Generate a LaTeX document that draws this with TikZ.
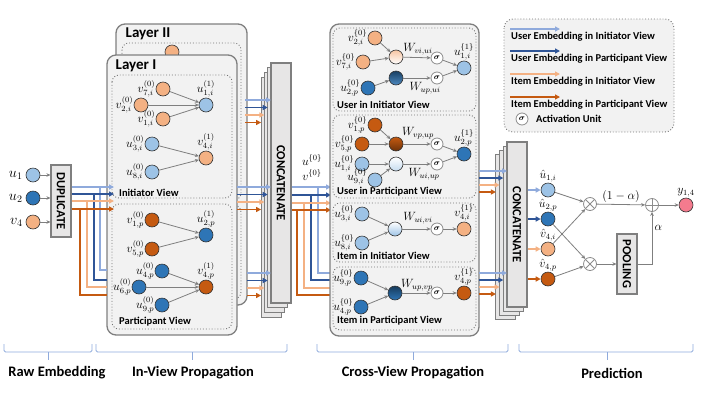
\documentclass[tikz,border=0pt]{standalone}
\usepackage{fontspec}
\setmainfont{Carlito}
\usepackage{amsmath}
\usepackage{graphicx}
\usetikzlibrary{arrows.meta,positioning,calc}

\definecolor{lbfill}{HTML}{9DC3E6}
\definecolor{dbfill}{HTML}{2E75B6}
\definecolor{lofill}{HTML}{F4B183}
\definecolor{dofill}{HTML}{C55A11}
\definecolor{lbline}{HTML}{8FAADC}
\definecolor{dbline}{HTML}{2F5597}
\definecolor{loline}{HTML}{F4B183}
\definecolor{doline}{HTML}{C55A11}
\definecolor{boxfill}{HTML}{F2F2F2}
\definecolor{boxline}{HTML}{7F7F7F}
\definecolor{catfill}{HTML}{E7E6E6}
\definecolor{pinkfill}{HTML}{F47B8E}
\definecolor{brk}{HTML}{8FAADC}

\tikzset{
  emb/.style={circle,draw=black!80,line width=0.6pt,minimum size=14pt,inner sep=0pt},
  lbc/.style={emb,fill=lbfill},
  dbc/.style={emb,fill=dbfill},
  loc/.style={emb,fill=lofill},
  doc/.style={emb,fill=dofill},
  sig/.style={circle,draw=black!45,fill=white,line width=0.8pt,minimum size=12pt,inner sep=0pt,font=\fontsize{8.5}{8}\selectfont},
  opc/.style={circle,draw=black!45,fill=white,line width=0.8pt,minimum size=13pt,inner sep=0pt},
  ed/.style={draw=boxline,line width=0.8pt,-{Stealth[length=4pt,width=3.6pt]}},
  lbf/.style={draw=lbline,line width=1.7pt},
  dbf/.style={draw=dbline,line width=1.7pt},
  lof/.style={draw=loline,line width=1.7pt},
  dof/.style={draw=doline,line width=1.7pt},
  tip/.style={-{Triangle[length=5pt,width=5pt]}},
  layer/.style={draw=boxline,fill=boxfill,line width=1.3pt,rounded corners=9pt},
  view/.style={draw=black!55,dotted,line width=0.9pt,rounded corners=7pt},
  block/.style={draw=boxline,fill=catfill,line width=1.1pt,inner sep=0pt,font=\bfseries\fontsize{12.5}{13}\selectfont},
  stack/.style={draw=boxline,fill=catfill,line width=1.1pt},
  nl/.style={inner sep=0.3pt,font=\fontsize{12}{13}\selectfont},
  rl/.style={inner sep=3pt,font=\fontsize{14}{15}\selectfont},
  wl/.style={inner sep=0pt,font=\fontsize{12}{13}\selectfont},
  title/.style={font=\bfseries\fontsize{15}{16}\selectfont},
  vlab/.style={anchor=west,inner sep=0pt,font=\bfseries\fontsize{10.5}{11}\selectfont},
  leg/.style={anchor=west,inner sep=0pt,font=\bfseries\fontsize{10.5}{11}\selectfont},
  btxt/.style={font=\bfseries\fontsize{14.5}{15}\selectfont},
  brace/.style={draw=brk,line width=0.8pt,rounded corners=1.5pt}
}

\begin{document}
\begin{tikzpicture}[x=1pt,y=-1pt]
\useasboundingbox (0,0) rectangle (706,397);

% raw embedding
\node[lbc,label={[rl]left:$u_1$}] (u1) at (33,175) {};
\node[dbc,label={[rl]left:$u_2$}] (u2) at (33,198) {};
\node[loc,label={[rl]left:$v_4$}] (v4) at (33,222) {};
\node[block,minimum width=20pt,minimum height=72pt] (dup) at (61,201) {\rotatebox{-90}{DUPLICATE}};
\foreach \n in {u1,u2,v4} \draw[ed] (\n) -- (\n -| dup.west);

% in-view propagation, two layers
\draw[layer] (116,24) rectangle (247,305);
\draw[view] (122,43) rectangle (241,200);
\draw[view] (122,205) rectangle (241,299);
\node[loc] (l2v) at (172,52) {};
\node[title] (l2) at (148,34) {Layer II};
\draw[layer] (107,55) rectangle (237,335);
\node[title] (l1) at (136,66) {Layer I};
\draw[view] (112,75) rectangle (232,198);
\draw[view] (112,204) rectangle (232,329);
\node[vlab] (iview) at (119,193) {Initiator View};
\node[vlab] (pview) at (119,322) {Participant View};

% initiator view
\node[loc,label={[nl]left:$v^{(0)}_{7,i}$}] (iv7) at (163,89) {};
\node[loc,label={[nl]left:$v^{(0)}_{2,i}$}] (iv2) at (141,105) {};
\node[loc,label={[nl]left:$v^{(0)}_{1,i}$}] (iv1) at (163,119) {};
\node[lbc,label={[nl]above:$u^{(1)}_{1,i}$}] (iu1) at (206,105) {};
\node[lbc,label={[nl]left:$u^{(0)}_{3,i}$}] (iu3) at (152,144) {};
\node[lbc,label={[nl]left:$u^{(0)}_{8,i}$}] (iu8) at (152,172) {};
\node[loc,label={[nl]above:$v^{(1)}_{4,i}$}] (iv4) at (206,158) {};
% participant view
\node[doc,label={[nl]left:$v^{(0)}_{1,p}$}] (pv1) at (152,220) {};
\node[doc,label={[nl]left:$v^{(0)}_{5,p}$}] (pv5) at (152,249) {};
\node[dbc,label={[nl]above:$u^{(1)}_{2,p}$}] (pu2) at (206,235) {};
\node[dbc,label={[nl]left:$u^{(0)}_{4,p}$}] (pu4) at (162,271) {};
\node[dbc,label={[nl]left:$u^{(0)}_{6,p}$}] (pu6) at (139,287) {};
\node[dbc,label={[nl]left:$u^{(0)}_{9,p}$}] (pu9) at (162,305) {};
\node[doc,label={[nl]above:$v^{(1)}_{4,p}$}] (pv4) at (206,287) {};
\foreach \s/\t in {iv7/iu1,iv2/iu1,iv1/iu1,iu3/iv4,iu8/iv4,pv1/pu2,pv5/pu2,pu4/pv4,pu6/pv4,pu9/pv4}
  \draw[ed] (\s) -- (\t);

% duplicate -> layer I
\foreach \c/\y/\bx/\by in {lbf/187/100/270,dbf/194/94/280,lof/201/87/287,dof/209/80/295} {
  \draw[\c,tip] (dup.east |- 0,\y) -- (114,\y);
  \draw[\c] (\bx,\y) |- (107,\by);
}

% concatenate 1
\foreach \k in {3,2,1}
  \draw[stack] ($(271,63)+(-3.3*\k,4.7*\k)$) rectangle +(20,240);
\node[block,minimum width=20pt,minimum height=240pt] (cat1) at (281,183) {\rotatebox{-90}{CONCATENATE}};
\foreach \d/\c/\e in {0/lbf/271,7.5/dbf/267.7,15/lof/264.4,22.5/dof/261.1} {
  \draw[\c,tip] (245,100+\d) -- (\e,100+\d);
  \draw[\c,tip] (237,187+\d) -- (\e,187+\d);
  \draw[\c,tip] (247,273+\d) -- (\e,273+\d);
}

% concatenate 1 -> cross-view
\foreach \c/\y/\bx/\by in {lbf/187/318/273,dbf/195/311/280,lof/203/304/288,dof/210/297/295} {
  \draw[\c,tip] (cat1.east |- 0,\y) -- (331,\y);
  \draw[\c] (\bx,\y) |- (330,\by);
}
\node[nl] (u0) at (312,160) {$u^{\{0\}}$};
\node[nl] (v0) at (312,175) {$v^{\{0\}}$};

% cross-view propagation
\draw[layer] (330,24) rectangle (479,336);
\draw[view] (333,28) rectangle (476,111);
\draw[view] (333,115) rectangle (476,198);
\draw[view] (333,203) rectangle (476,262);
\draw[view] (333,267) rectangle (476,330);
\node[vlab] (cv1) at (337,105) {User in Initiator View};
\node[vlab] (cv2) at (337,192) {User in Participant View};
\node[vlab] (cv3) at (337,256) {Item in Initiator View};
\node[vlab] (cv4) at (337,321) {Item in Participant View};

% user in initiator view
\node[loc,label={[nl]left:$v^{\{0\}}_{2,i}$}] (c1v2) at (375,38) {};
\node[loc,label={[nl]left:$v^{\{0\}}_{7,i}$}] (c1v7) at (363,62) {};
\node[emb,top color=lofill!75,bottom color=white] (c1a) at (396,57) {};
\node[dbc,label={[nl]left:$u^{\{0\}}_{2,p}$}] (c1u2) at (368,88) {};
\node[emb,top color=dbfill!55!black,bottom color=dbfill!85] (c1b) at (396,78) {};
\node[sig] (c1s1) at (437,58) {$\boldsymbol{\sigma}$};
\node[sig] (c1s2) at (437,78) {$\boldsymbol{\sigma}$};
\node[lbc,label={[nl]above:$u^{\{1\}}_{1,i}$}] (c1o) at (464,68) {};
\node[wl] (w1) at (418,49) {$W_{vi,ui}$};
\node[wl] (w2) at (425,88) {$W_{up,ui}$};
% user in participant view
\node[doc,label={[nl]left:$v^{\{0\}}_{1,p}$}] (c2v1) at (375,125) {};
\node[doc,label={[nl]left:$v^{\{0\}}_{5,p}$}] (c2v5) at (362,144) {};
\node[emb,top color=dofill,bottom color=dofill!55!black] (c2a) at (396,144) {};
\node[lbc,label={[nl]left:$u^{\{0\}}_{1,i}$}] (c2u1) at (362,164) {};
\node[emb,top color=white,bottom color=lbfill!60] (c2b) at (396,164) {};
\node[lbc,label={[nl,yshift=3pt]left:$u^{\{0\}}_{9,i}$}] (c2u9) at (375,180) {};
\node[sig] (c2s1) at (437,144) {$\boldsymbol{\sigma}$};
\node[sig] (c2s2) at (437,164) {$\boldsymbol{\sigma}$};
\node[dbc,label={[nl]above:$u^{\{1\}}_{2,p}$}] (c2o) at (464,154) {};
\node[wl] (w3) at (418,133) {$W_{vp,up}$};
\node[wl] (w4) at (424,174) {$W_{ui,up}$};
% item in initiator view
\node[lbc,label={[nl]left:$u^{\{0\}}_{3,i}$}] (c3u3) at (362,214) {};
\node[lbc,label={[nl]left:$u^{\{0\}}_{8,i}$}] (c3u8) at (362,243) {};
\node[emb,top color=white,bottom color=lbfill] (c3a) at (395,229) {};
\node[sig] (c3s) at (437,229) {$\boldsymbol{\sigma}$};
\node[loc,label={[nl]above:$v^{\{1\}}_{4,i}$}] (c3o) at (464,229) {};
\node[wl] (w5) at (418,218) {$W_{ui,vi}$};
% item in participant view
\node[dbc,label={[nl]left:$u^{\{0\}}_{9,p}$}] (c4u9) at (361,278) {};
\node[dbc,label={[nl]left:$u^{\{0\}}_{4,p}$}] (c4u4) at (361,307) {};
\node[emb,top color=dbfill!50!black,bottom color=dbfill] (c4a) at (395,293) {};
\node[sig] (c4s) at (437,293) {$\boldsymbol{\sigma}$};
\node[doc,label={[nl]above:$v^{\{1\}}_{4,p}$}] (c4o) at (464,293) {};
\node[wl] (w6) at (417,285) {$W_{up,vp}$};
\foreach \s/\t in {c1v2/c1a,c1v7/c1a,c1a/c1s1,c1s1/c1o,c1u2/c1b,c1b/c1s2,c1s2/c1o,
                   c2v1/c2a,c2v5/c2a,c2a/c2s1,c2s1/c2o,c2u1/c2b,c2u9/c2b,c2b/c2s2,c2s2/c2o,
                   c3u3/c3a,c3u8/c3a,c3a/c3s,c3s/c3o,c4u9/c4a,c4u4/c4a,c4a/c4s,c4s/c4o}
  \draw[ed] (\s) -- (\t);

% concatenate 2
\foreach \k in {3,2,1}
  \draw[stack] ($(507,142)+(-3.7*\k,4.3*\k)$) rectangle +(20,165);
\node[block,minimum width=20pt,minimum height=165pt] (cat2) at (517,224.5) {\rotatebox{-90}{CONCATENATE}};
\foreach \d/\c/\e in {0/lbf/507,7/dbf/503.3,14/lof/499.6,21/dof/495.9} {
  \draw[\c,tip] (479,171+\d) -- (\e,171+\d);
  \draw[\c,tip] (479,273+\d) -- (\e,273+\d);
}

% prediction
\node[lbc,label={[nl]above:$\hat{u}_{1,i}$}] (hu1) at (548,190) {};
\node[dbc,label={[nl]above:$\hat{u}_{2,p}$}] (hu2) at (548,219) {};
\node[loc,label={[nl]above:$\hat{v}_{4,i}$}] (hv4i) at (548,249) {};
\node[doc,label={[nl]above:$\hat{v}_{4,p}$}] (hv4p) at (548,279) {};
\foreach \n/\c in {hu1/lbf,hu2/dbf,hv4i/lof,hv4p/dof}
  \draw[\c,tip] (cat2.east |- \n) -- (\n.west);
\node[opc,path picture={\draw[black!45,line width=0.8pt]
  (path picture bounding box.north west) -- (path picture bounding box.south east)
  (path picture bounding box.north east) -- (path picture bounding box.south west);}] (ot1) at (590,204) {};
\node[opc,path picture={\draw[black!45,line width=0.8pt]
  (path picture bounding box.north west) -- (path picture bounding box.south east)
  (path picture bounding box.north east) -- (path picture bounding box.south west);}] (ot2) at (590,264) {};
\node[opc,path picture={\draw[black!45,line width=0.8pt]
  (path picture bounding box.north) -- (path picture bounding box.south)
  (path picture bounding box.east) -- (path picture bounding box.west);}] (opl) at (652,205) {};
\node[emb,fill=pinkfill,label={[nl]above:$y_{1,4}$}] (y14) at (686,205) {};
\node[block,minimum width=20pt,minimum height=60pt] (pool) at (627,264) {\rotatebox{-90}{POOLING}};
\foreach \s/\t in {hu1/ot1,hv4i/ot1,hu2/ot2,hv4p/ot2,ot2/pool,opl/y14}
  \draw[ed] (\s) -- (\t);
\draw[ed] (ot1) -- node[nl,above=1pt] {$(1-\alpha)$} (opl);
\draw[ed] (pool.east) -| node[nl,pos=0.85,right=2pt] {$\alpha$} (opl.south);

% legend
\draw[view,fill=boxfill,rounded corners=9pt] (504,19) rectangle (674,132);
\foreach \y/\c/\t in {29/lbf/User Embedding in Initiator View,51/dbf/User Embedding in Participant View,
                      74/lof/Item Embedding in Initiator View,97/dof/Item Embedding in Participant View} {
  \draw[\c,tip] (510,\y) -- (560,\y);
  \node[leg] (leg\y) at (511,\y+8) {\t};
}
\node[sig] (lsig) at (522,119) {$\boldsymbol{\sigma}$};
\node[leg] (lact) at (536,119) {Activation Unit};

% stage brackets
\foreach \a/\b/\m/\tx/\t in {4/92/48/57/Raw Embedding,96/287/192/193/In-View Propagation,
                            317/508/413/413/Cross-View Propagation,519/693/607/612/Prediction} {
  \draw[brace] (\a,344) -- (\a,352) -- (\b,352) -- (\b,344);
  \draw[brace] (\m,352) -- (\m,360);
  \node[btxt] (st\a) at (\tx,373) {\t};
}
\end{tikzpicture}
\end{document}
